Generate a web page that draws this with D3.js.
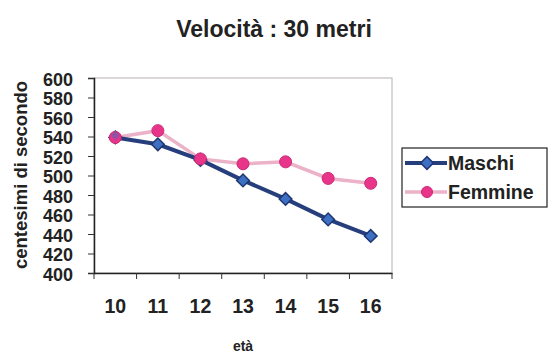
<!DOCTYPE html>
<html><head><meta charset="utf-8">
<script src="https://cdn.jsdelivr.net/npm/d3@7"></script>
<style>body{margin:0;background:#fff}svg{display:block}text{font-family:Arial,"Liberation Sans",sans-serif}</style>
</head><body><svg id="c" width="556" height="359"></svg>
<script>
const ages = ["10","11","12","13","14","15","16"];
const maschi = [539, 532, 516, 495, 476, 455, 438];
const femmine = [539, 546, 517, 512, 514, 497, 492];
const yTicks = [400,420,440,460,480,500,520,540,560,580,600];
const seriesNames = ["Maschi","Femmine"];

const svg = d3.select("#c");
const L = 94, R = 392, T = 78, B = 273;
const x = d3.scaleBand().domain(ages).range([L, R]);
const y = d3.scaleLinear().domain([400, 600]).range([B, T]);

// plot area border
svg.append("rect").attr("x", L).attr("y", T).attr("width", R - L).attr("height", B - T)
  .attr("fill", "none").attr("stroke", "#b8b0b4").attr("stroke-width", 1);

// y axis
const ya = svg.append("g").attr("transform", `translate(${L},0)`)
  .call(d3.axisLeft(y).tickValues(yTicks).tickSize(6).tickPadding(15));
ya.select(".domain").attr("stroke", "#222").attr("stroke-width", 1.5);
ya.selectAll(".tick line").attr("stroke", "#333");
ya.selectAll("text").attr("font-size", 18).attr("font-weight", "bold").attr("fill", "#222")
  .attr("dy", "0.4em");

// x axis
const xa = svg.append("g").attr("transform", `translate(0,${B})`)
  .call(d3.axisBottom(x).tickSize(0).tickPadding(26));
xa.select(".domain").attr("stroke", "#222").attr("stroke-width", 1.5);
xa.selectAll("text").attr("font-size", 19.5).attr("font-weight", "bold").attr("fill", "#222");
const bounds = ages.map(a => x(a)).concat([R]);
svg.append("g").selectAll("line").data(bounds).join("line")
  .attr("x1", d => d).attr("x2", d => d).attr("y1", B).attr("y2", B + 6)
  .attr("stroke", "#333");

const cx = a => x(a) + x.bandwidth() / 2;
const line = d3.line().x((d, i) => cx(ages[i])).y(d => y(d));

svg.append("path").datum(femmine).attr("d", line).attr("fill", "none")
  .attr("stroke", "#ebb2c8").attr("stroke-width", 3.5);
svg.append("path").datum(maschi).attr("d", line).attr("fill", "none")
  .attr("stroke", "#263f7c").attr("stroke-width", 4);

const diamond = d3.symbol().type(d3.symbolSquare).size(80);
svg.append("g").selectAll("path").data(maschi).join("path")
  .attr("d", diamond).attr("transform", (d, i) => `translate(${cx(ages[i])},${y(d)}) rotate(45)`)
  .attr("fill", "#3d6fc2").attr("stroke", "#1f3670").attr("stroke-width", 1.5);
svg.append("g").selectAll("circle").data(femmine).join("circle")
  .attr("cx", (d, i) => cx(ages[i])).attr("cy", d => y(d)).attr("r", 6)
  .attr("fill", "#e8358a").attr("stroke", "#c92a74").attr("stroke-width", 1);
svg.append("path").attr("d", d3.symbol().type(d3.symbolSquare).size(40)())
  .attr("transform", `translate(${cx(ages[0])},${y(maschi[0]) - 2}) rotate(45)`)
  .attr("fill", "#3d6fc2").attr("opacity", 0.5);

// titles
svg.append("text").attr("x", 274).attr("y", 37).attr("text-anchor", "middle")
  .attr("font-size", 23).attr("font-weight", "bold").attr("fill", "#222").text("Velocità : 30 metri");
svg.append("text").attr("transform", "translate(27,175) rotate(-90)").attr("text-anchor", "middle")
  .attr("font-size", 18.5).attr("fill", "#222").attr("font-weight", "bold").text("centesimi di secondo");
svg.append("text").attr("x", 243).attr("y", 351).attr("text-anchor", "middle")
  .attr("font-size", 14).attr("font-weight", "bold").attr("fill", "#222").text("età");

// legend
const lg = svg.append("g");
lg.append("rect").attr("x", 402).attr("y", 148).attr("width", 145).attr("height", 59)
  .attr("fill", "#fff").attr("stroke", "#222").attr("stroke-width", 1.2);
const legY = [163, 192];
const colorsLine = ["#263f7c", "#ebb2c8"];
seriesNames.forEach((n, i) => {
  lg.append("line").attr("x1", 405).attr("x2", 447).attr("y1", legY[i]).attr("y2", legY[i])
    .attr("stroke", colorsLine[i]).attr("stroke-width", i ? 3.5 : 4);
  if (i === 0) {
    lg.append("path").attr("d", diamond).attr("transform", `translate(427,${legY[i]}) rotate(45)`)
      .attr("fill", "#3d6fc2").attr("stroke", "#1f3670").attr("stroke-width", 1.5);
  } else {
    lg.append("circle").attr("cx", 427).attr("cy", legY[i]).attr("r", 5.5)
      .attr("fill", "#e8358a").attr("stroke", "#c92a74");
  }
  lg.append("text").attr("x", 448).attr("y", legY[i] + 7).attr("font-size", 19.5)
    .attr("font-weight", "bold").attr("fill", "#222").text(n);
});
</script></body></html>
